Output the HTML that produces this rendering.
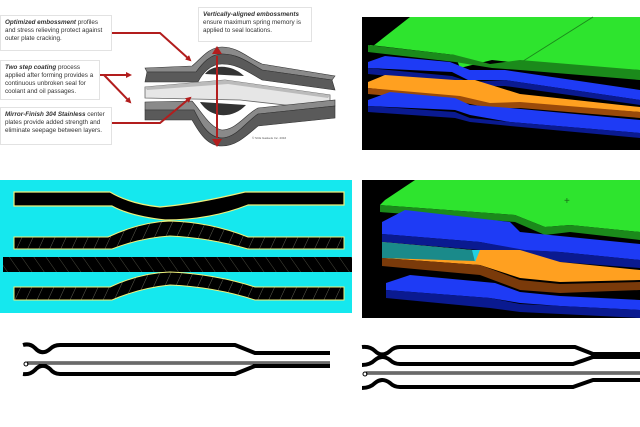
<!DOCTYPE html>
<html><head><style>
body{margin:0;width:640px;height:427px;background:#fff;overflow:hidden;font-family:"Liberation Sans",sans-serif}
.box{position:absolute;border:1px solid #e2e2e2;background:#fff;font-size:6.3px;line-height:8px;color:#333;padding:3px 4px;box-sizing:border-box}
.box b{font-style:italic}
</style></head><body>
<svg width="640" height="427" style="position:absolute;left:0;top:0">
<defs>
<marker id="ah" markerWidth="6" markerHeight="6" refX="4" refY="3" orient="auto" markerUnits="userSpaceOnUse"><path d="M0,0 L6,3 L0,6 z" fill="#b21d1d"/></marker>
<pattern id="hat" width="10" height="10" patternUnits="userSpaceOnUse" patternTransform="rotate(25)"><rect width="10" height="10" fill="#000"/><line x1="0" y1="0" x2="0" y2="10" stroke="#887" stroke-width="0.7"/></pattern>
<pattern id="hat2" width="10" height="10" patternUnits="userSpaceOnUse" patternTransform="rotate(-35)"><rect width="10" height="10" fill="#000"/><line x1="0" y1="0" x2="0" y2="10" stroke="#665" stroke-width="0.7"/></pattern>
</defs>
<!-- gasket top-left -->
<path d="M145,68 L192,66 C200,60 208,47 222,47 C238,47 248,58 262,64 L335,76 L332,80 L262,70 C248,62 238,54 222,54 C210,54 202,64 196,72 L147,72 z" fill="#8a8a8a" stroke="#333" stroke-width="0.6"/>
<path d="M147,72 L196,72 C202,64 210,54 222,54 C238,54 248,62 262,70 L332,80 L335,90 L262,80 C248,72 238,64 222,64 C210,64 202,74 198,82 L145,82 z" fill="#5a5a5a" stroke="#333" stroke-width="0.6"/>
<path d="M205,74 C212,64 232,64 244,76 z" fill="#333"/>
<path d="M145,87 L225,80 L330,95 L330,110 L240,100 L145,98z" fill="#e6e6e6" stroke="#666" stroke-width="0.8"/>
<path d="M145,87 L225,80 L330,95 L328,98 L228,84 L147,90z" fill="#bbb"/>
<path d="M145,102 L192,101 C202,112 210,128 222,130 C236,130 246,114 258,108 L335,100 L335,106 L258,114 C246,122 236,138 222,138 C208,138 200,122 194,110 L145,110 z" fill="#8a8a8a" stroke="#333" stroke-width="0.6"/>
<path d="M145,110 L194,110 C200,122 208,138 222,138 C236,138 246,122 258,114 L335,106 L335,118 L258,126 C246,136 236,146 222,146 C206,146 198,130 192,120 L145,120 z" fill="#5a5a5a" stroke="#333" stroke-width="0.6"/>
<path d="M200,102 C210,118 232,120 246,105 z" fill="#333"/>
<text x="252" y="139" font-size="3" fill="#555">© SCE Gaskets Inc. 2016</text>
<g stroke="#b21d1d" stroke-width="2" fill="none">
<path d="M112,33 L160,33 L190,60" marker-end="url(#ah)"/>
<path d="M100,75 L130,75" marker-end="url(#ah)"/>
<path d="M104,75 L130,102" marker-end="url(#ah)"/>
<path d="M112,123 L160,123 L190,98" marker-end="url(#ah)"/>
<path d="M217,56 L217,138"/>
</g>
<path d="M217,46 L212,54 L222,54z M217,147 L212,139 L222,139z" fill="#b21d1d"/>
<!-- top right -->
<rect x="362" y="17" width="278" height="133" fill="#000"/>
<path d="M410,17 L640,17 L640,70 L520,63 L492,60 L460,68 L455,55 L370,45 L368,50z" fill="#2ee42e"/>
<path d="M368,45 L455,55 L490,64 L520,60 L640,70 L640,80 L520,70 L492,68 L455,62 L368,52z" fill="#1b8a1b"/>
<path d="M593,17 L520,63" stroke="#1b8a1b" stroke-width="1"/>
<path d="M368,62 L385,56 L450,62 L470,70 L505,70 L640,90 L640,100 L505,80 L468,80 L452,72 L368,68z" fill="#1e3bf5"/>
<path d="M368,68 L452,76 L470,82 L505,80 L640,100 L640,105 L505,86 L470,86 L452,82 L368,74z" fill="#0a1a90"/>
<path d="M368,82 L385,75 L455,80 L475,80 L520,94 L640,107 L640,112 L520,103 L490,104 L460,98 L368,88z" fill="#ffa020"/>
<path d="M368,88 L460,96 L490,103 L520,102 L640,112 L640,118 L520,108 L490,108 L460,102 L368,94z" fill="#9a4a0a"/>
<path d="M368,100 L390,92 L455,98 L470,105 L510,108 L640,120 L640,133 L510,122 L470,115 L455,110 L368,106z" fill="#1e3bf5"/>
<path d="M368,106 L455,112 L470,118 L510,122 L640,133 L640,138 L510,126 L470,122 L455,118 L368,112z" fill="#0a1a90"/>
<!-- middle left -->
<rect x="0" y="180" width="352" height="133" fill="#15e8ee"/>
<path d="M14,192 L110,192 Q130,204 160,207 Q195,204 245,192 L344,192 L344,205 L248,205 Q210,220 165,220 Q130,216 112,206 L14,206z" fill="#000" stroke="#eef07a" stroke-width="1.2"/>
<path d="M14,237 L108,237 Q140,222 170,221 Q210,222 248,237 L344,237 L344,249 L248,249 Q210,238 170,236 Q140,238 112,249 L14,249z" fill="url(#hat)" stroke="#eef07a" stroke-width="1"/>
<rect x="3" y="257" width="349" height="15" fill="url(#hat2)"/>
<path d="M14,287 L110,287 Q140,273 170,272 Q215,274 255,287 L344,287 L344,300 L255,300 Q215,287 170,285 Q140,288 112,300 L14,300z" fill="url(#hat)" stroke="#eef07a" stroke-width="1"/>
<!-- middle right -->
<rect x="362" y="180" width="278" height="138" fill="#000"/>
<path d="M385,200 L415,180 L640,180 L640,232 L570,225 L545,227 L515,215 L380,205z" fill="#2ee42e"/>
<path d="M380,205 L515,215 L545,227 L570,225 L640,232 L640,240 L570,232 L545,235 L515,222 L380,212z" fill="#1b8a1b"/>
<text x="564" y="204" font-size="10" fill="#1a6a1a">+</text>
<path d="M382,222 L405,210 L510,222 L520,232 L560,236 L640,244 L640,260 L560,252 L520,250 L480,242 L382,234z" fill="#1e3bf5"/>
<path d="M382,234 L480,242 L525,250 L560,252 L640,260 L640,268 L560,262 L520,258 L480,250 L382,242z" fill="#0a1a90"/>
<path d="M382,242 L472,250 L520,250 L560,262 L640,270 L640,280 L560,282 L520,278 L480,265 L382,258z" fill="#ffa020"/>
<path d="M382,242 L473,250 L475,261 L382,258z" fill="#1a8a8a"/>
<path d="M472,250 L480,250 L475,262z" fill="#20d0e0"/>
<path d="M382,258 L480,265 L520,280 L560,284 L640,282 L640,290 L560,293 L520,290 L480,275 L382,266z" fill="#7a3a0a"/>
<path d="M386,283 L410,275 L495,283 L520,292 L560,296 L640,300 L640,310 L560,306 L520,303 L490,298 L386,290z" fill="#1e3bf5"/>
<path d="M386,290 L490,298 L520,304 L640,310 L640,318 L520,312 L490,308 L386,298z" fill="#0a1a90"/>
<!-- bottom lines -->
<g fill="none" stroke="#000" stroke-width="4" stroke-linejoin="round">
<path d="M23,345 Q30,343 35,348 Q42,356 50,349 Q54,345 60,345 L235,345 L255,353 L330,353"/>
<path d="M23,374 Q30,375 35,370 Q42,362 50,369 Q54,374 60,374 L235,374 L255,366 L330,366"/>
<path d="M362,347 Q370,346 375,351 Q382,358 390,351 Q394,347 400,347 L575,347 L593,354 L640,354"/>
<path d="M362,365 Q370,365 375,360 Q382,354 390,360 Q394,364 400,364 L573,364 L593,357 L640,357"/>
<path d="M362,388 Q370,388 375,383 Q382,377 390,383 Q394,387 400,387 L573,387 L593,380 L640,380"/>
</g>
<g fill="none">
<path d="M27,363 L330,363" stroke="#000" stroke-width="3"/>
<path d="M27,363 L330,363" stroke="#aaa" stroke-width="1.2"/>
<circle cx="26" cy="364" r="2" stroke="#000" stroke-width="1"/>
<path d="M366,373 L640,373" stroke="#000" stroke-width="3"/>
<path d="M366,373 L640,373" stroke="#aaa" stroke-width="1.2"/>
<circle cx="365" cy="374" r="2" stroke="#000" stroke-width="1"/>
</g>
</svg>
<div class="box" style="left:0;top:15px;width:112px;height:36px"><b>Optimized embossment</b> profiles and stress relieving protect against outer plate cracking.</div>
<div class="box" style="left:0;top:60px;width:100px;height:40px"><b>Two step coating</b> process applied after forming provides a continuous unbroken seal for coolant and oil passages.</div>
<div class="box" style="left:0;top:107px;width:112px;height:38px"><b>Mirror-Finish 304 Stainless</b> center plates provide added strength and eliminate seepage between layers.</div>
<div class="box" style="left:198px;top:7px;width:114px;height:35px"><b>Vertically-aligned embossments</b> ensure maximum spring memory is applied to seal locations.</div>
</body></html>
